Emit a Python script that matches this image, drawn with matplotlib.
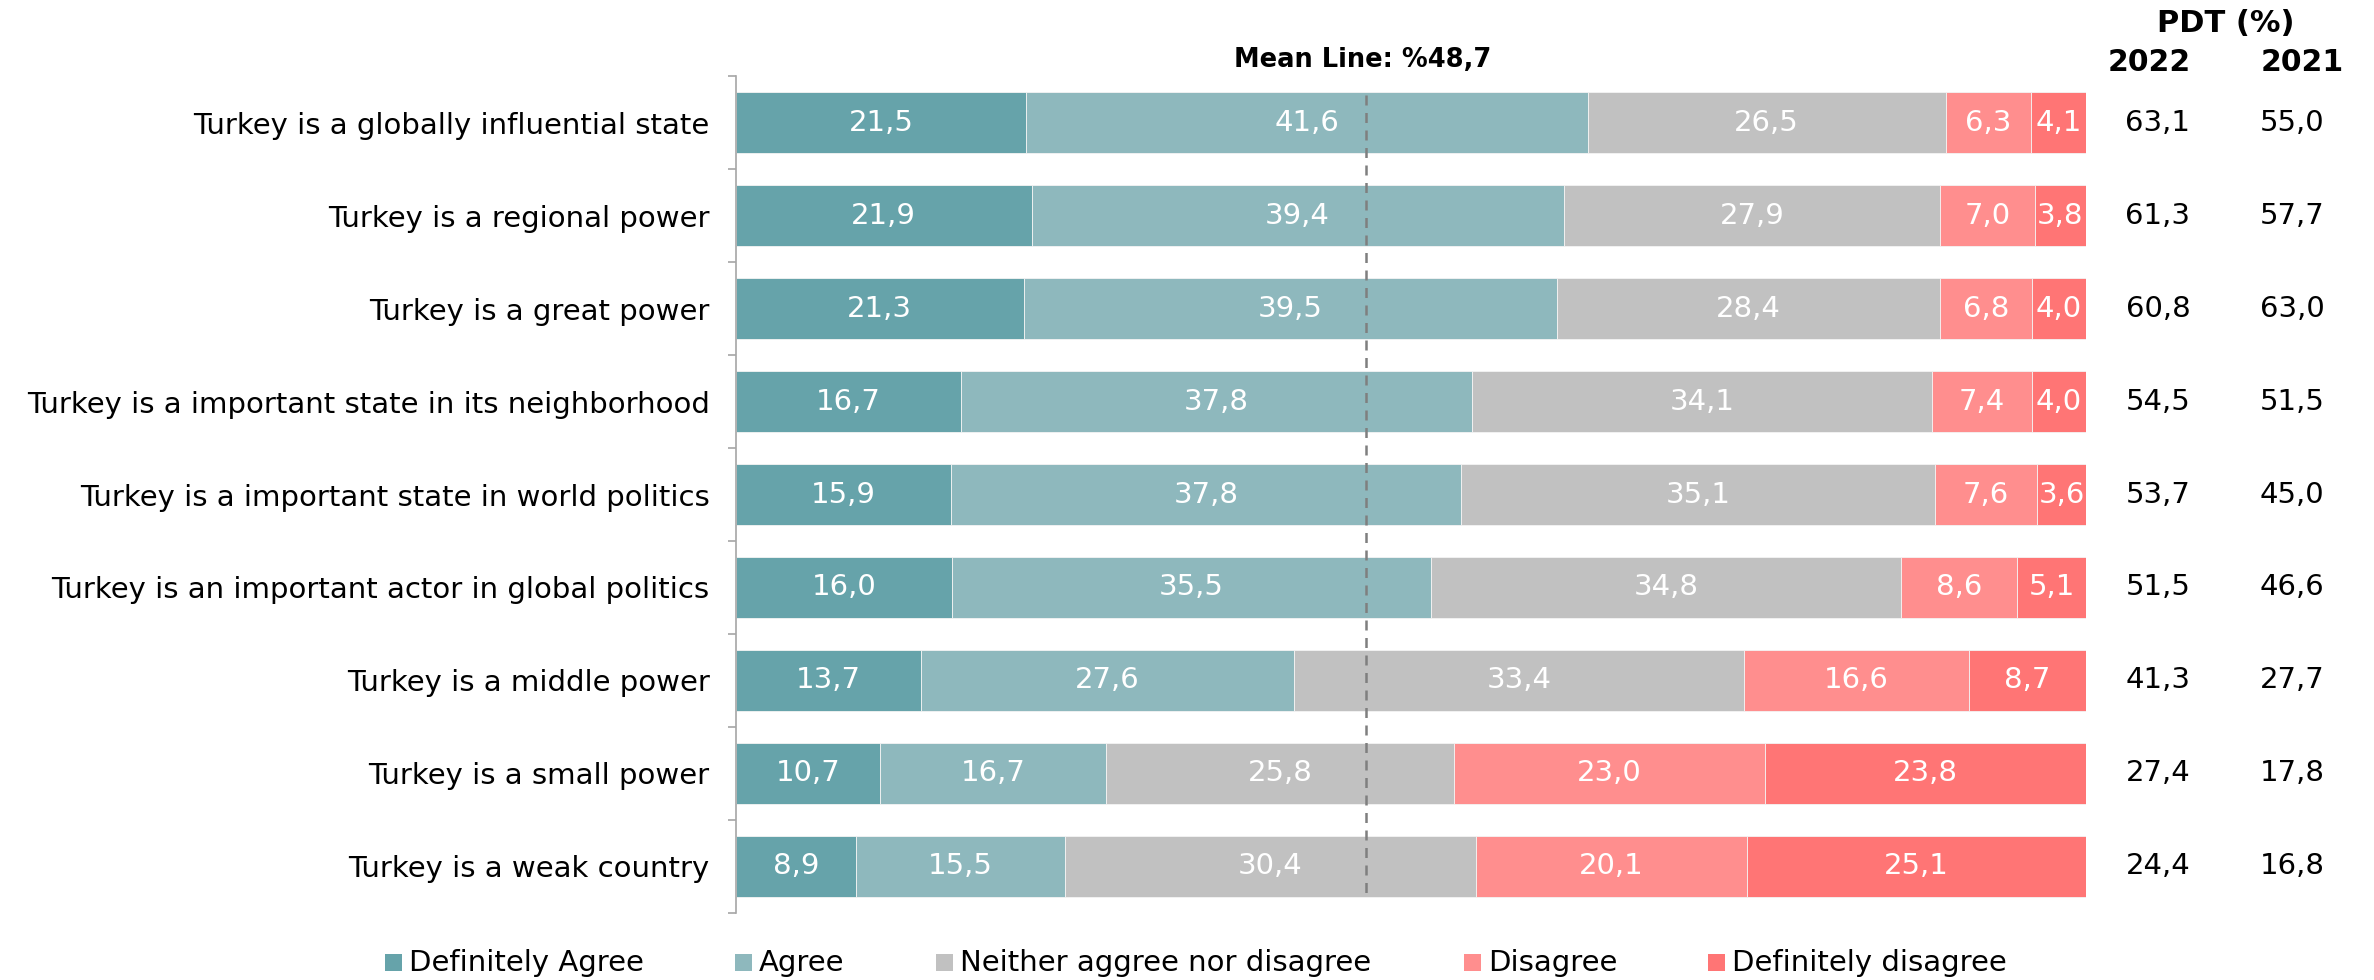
import matplotlib
matplotlib.use("Agg")
import matplotlib.pyplot as plt
import numpy as np

categories = [
    "Turkey is a globally influential state",
    "Turkey is a regional power",
    "Turkey is a great power",
    "Turkey is a important state in its neighborhood",
    "Turkey is a important state in world politics",
    "Turkey is an important actor in global politics",
    "Turkey is a middle power",
    "Turkey is a small power",
    "Turkey is a weak country",
]
definitely_agree = [21.5, 21.9, 21.3, 16.7, 15.9, 16.0, 13.7, 10.7, 8.9]
agree = [41.6, 39.4, 39.5, 37.8, 37.8, 35.5, 27.6, 16.7, 15.5]
neither = [26.5, 27.9, 28.4, 34.1, 35.1, 34.8, 33.4, 25.8, 30.4]
disagree = [6.3, 7.0, 6.8, 7.4, 7.6, 8.6, 16.6, 23.0, 20.1]
definitely_disagree = [4.1, 3.8, 4.0, 4.0, 3.6, 5.1, 8.7, 23.8, 25.1]
pdt_2022 = [63.1, 61.3, 60.8, 54.5, 53.7, 51.5, 41.3, 27.4, 24.4]
pdt_2021 = [55.0, 57.7, 63.0, 51.5, 45.0, 46.6, 27.7, 17.8, 16.8]
series_names = ["Definitely Agree", "Agree", "Neither aggree nor disagree",
                "Disagree", "Definitely disagree"]
colors = ["#66A3AA", "#8EB8BD", "#C1C1C1", "#FF8E8E", "#FF7575"]
mean_value = 48.7
mean_line_x = 46.7  # where the source chart draws its mean line

def fmt(v):
    return f"{v:.1f}".replace(".", ",")

plt.rcParams["font.family"] = "DejaVu Sans"
fs = 21

fig = plt.figure(figsize=(23.74, 9.8), dpi=100)
ax = fig.add_axes([0.310, 0.0684, 0.8787 - 0.310, 0.9224 - 0.0684])

y = np.arange(len(categories))
left = np.zeros(len(categories))
for vals, col in zip([definitely_agree, agree, neither, disagree, definitely_disagree], colors):
    vals = np.array(vals)
    ax.barh(y, vals, left=left, height=0.656, color=col, edgecolor="#F4F4F4", linewidth=0.6)
    for yi, l, v in zip(y, left, vals):
        ax.text(l + v / 2, yi, fmt(v), ha="center", va="center", color="white", fontsize=fs)
    left += vals

ax.set_xlim(0, 100)
ax.set_ylim(len(categories) - 0.5, -0.5)
ax.set_yticks(y)
ax.set_yticklabels(categories, fontsize=fs)
ax.set_yticks(np.arange(len(categories) + 1) - 0.5, minor=True)
ax.tick_params(axis="y", which="major", length=0, pad=19)
ax.tick_params(axis="y", which="minor", length=6, color="#A6A6A6", width=1.2)
ax.set_xticks([])
for s in ["top", "right", "bottom"]:
    ax.spines[s].set_visible(False)
ax.spines["left"].set_color("#A6A6A6")
ax.spines["left"].set_linewidth(1.2)

# mean line
ax.vlines(mean_line_x, -0.3, 8.3, colors="#7F7F7F", linestyles=(0, (4, 3)), linewidth=1.8)
fig.text(0.5738, 0.939, "Mean Line: %" + fmt(mean_value), ha="center", va="center",
         fontsize=18.5, fontweight="bold")

# PDT columns
tr = matplotlib.transforms.blended_transform_factory(fig.transFigure, ax.transData)
for yi, a, b in zip(y, pdt_2022, pdt_2021):
    ax.text(0.909, yi, fmt(a), transform=tr, fontsize=fs, ha="center", va="center")
    ax.text(0.9655, yi, fmt(b), transform=tr, fontsize=fs, ha="center", va="center")

fig.text(0.9377, 0.9765, "PDT (%)", ha="center", va="center", fontsize=22, fontweight="bold")
fig.text(0.9052, 0.9358, "2022", ha="center", va="center", fontsize=21.5, fontweight="bold")
fig.text(0.9697, 0.9358, "2021", ha="center", va="center", fontsize=21.5, fontweight="bold")

# legend, placed like the source
leg_x = [385, 735, 936, 1464, 1708]
W, H = 2374, 980
for x0, c, n in zip(leg_x, colors, series_names):
    fig.patches.append(plt.Rectangle((x0 / W, 1 - 971 / H), 17 / W, 17 / H,
                                     transform=fig.transFigure, facecolor=c, edgecolor="none"))
    fig.text((x0 + 24) / W, 1 - 971 / H, n, ha="left", va="baseline", fontsize=fs)

fig.savefig("out.png", dpi=100)
